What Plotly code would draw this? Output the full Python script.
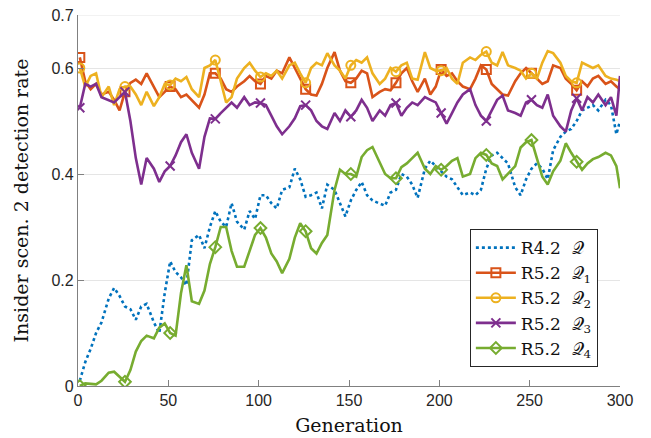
import plotly.graph_objects as go

generation = [1, 4, 7, 10, 13, 17, 20, 23,
              26, 29, 32, 35, 38, 42, 45, 48,
              51, 54, 57, 60, 63, 67, 70, 73,
              76, 79, 82, 85, 88, 92, 95, 98,
              101, 104, 107, 110, 113, 117, 120, 123,
              126, 129, 132, 135, 138, 142, 145, 148,
              151, 154, 157, 160, 163, 167, 170, 173,
              176, 179, 182, 185, 188, 192, 195, 198,
              201, 204, 207, 210, 213, 217, 220, 223,
              226, 229, 232, 235, 238, 242, 245, 248,
              251, 254, 257, 260, 263, 267, 270, 273,
              276, 279, 282, 285, 288, 292, 295, 298,
              300]

r42_q = [0.01, 0.045, 0.07, 0.1, 0.12, 0.165, 0.185, 0.17,
         0.15, 0.145, 0.125, 0.15, 0.155, 0.12, 0.1, 0.175,
         0.235, 0.215, 0.205, 0.19, 0.275, 0.285, 0.26, 0.3,
         0.33, 0.31, 0.3, 0.345, 0.31, 0.295, 0.33, 0.315,
         0.36, 0.36, 0.345, 0.335, 0.37, 0.375, 0.41, 0.39,
         0.357, 0.36, 0.365, 0.335, 0.38, 0.37, 0.345, 0.32,
         0.35, 0.37, 0.385, 0.36, 0.35, 0.345, 0.34, 0.365,
         0.37, 0.4, 0.395, 0.38, 0.355, 0.41, 0.425, 0.415,
         0.405, 0.395, 0.39, 0.375, 0.36, 0.365, 0.36, 0.37,
         0.41, 0.435, 0.44, 0.43, 0.42, 0.375, 0.36, 0.39,
         0.41, 0.42, 0.41, 0.39, 0.445, 0.47, 0.48, 0.485,
         0.5, 0.52, 0.525, 0.53, 0.52, 0.54, 0.53, 0.475,
         0.5]

r52_q1 = [0.62, 0.575, 0.56, 0.57, 0.55, 0.555, 0.54, 0.52,
          0.555, 0.572, 0.578, 0.57, 0.59, 0.565, 0.545, 0.555,
          0.565, 0.56, 0.545, 0.55, 0.54, 0.525, 0.55, 0.59,
          0.59, 0.58, 0.56, 0.555, 0.565, 0.575, 0.585, 0.575,
          0.57, 0.585, 0.58, 0.595, 0.59, 0.62, 0.6, 0.58,
          0.56, 0.55, 0.548, 0.57, 0.6, 0.63, 0.595, 0.575,
          0.572, 0.58, 0.595, 0.59, 0.545, 0.555, 0.56, 0.558,
          0.572, 0.59, 0.6, 0.575, 0.555, 0.58, 0.55, 0.565,
          0.597, 0.585, 0.59, 0.575, 0.565, 0.56, 0.58, 0.605,
          0.597, 0.57, 0.56, 0.55, 0.548, 0.575, 0.59, 0.6,
          0.59, 0.58, 0.57, 0.575, 0.605, 0.6, 0.58, 0.57,
          0.558, 0.575, 0.565, 0.58, 0.585, 0.57, 0.575, 0.565,
          0.56]

r52_q2 = [0.6, 0.565, 0.585, 0.59, 0.545, 0.565, 0.53, 0.56,
          0.565, 0.565, 0.55, 0.53, 0.555, 0.528, 0.545, 0.57,
          0.568, 0.58, 0.575, 0.583, 0.56, 0.545, 0.6, 0.605,
          0.615, 0.575, 0.535, 0.545, 0.58, 0.6, 0.61, 0.595,
          0.583, 0.59, 0.585, 0.595, 0.58, 0.605, 0.61, 0.59,
          0.572, 0.6, 0.61, 0.605, 0.628, 0.605, 0.595, 0.58,
          0.605, 0.615, 0.61, 0.62, 0.59, 0.57, 0.58, 0.6,
          0.593, 0.605, 0.61, 0.58, 0.578, 0.63, 0.6, 0.595,
          0.595, 0.6, 0.58, 0.57, 0.61, 0.62, 0.615, 0.625,
          0.631, 0.61, 0.605, 0.63, 0.605, 0.6, 0.595, 0.58,
          0.59, 0.58, 0.61, 0.632, 0.628, 0.61, 0.585, 0.575,
          0.572, 0.61, 0.605, 0.6, 0.605, 0.585, 0.58, 0.578,
          0.575]

r52_q3 = [0.525, 0.57, 0.565, 0.57, 0.545, 0.54, 0.535, 0.545,
          0.555, 0.5, 0.43, 0.38, 0.43, 0.41, 0.385, 0.405,
          0.415, 0.435, 0.46, 0.475, 0.44, 0.41, 0.47, 0.505,
          0.504, 0.515, 0.525, 0.535, 0.525, 0.545, 0.53, 0.535,
          0.534, 0.53, 0.51, 0.49, 0.475, 0.49, 0.505, 0.528,
          0.53, 0.52, 0.5, 0.49, 0.485, 0.515, 0.5, 0.52,
          0.508, 0.52, 0.54, 0.525, 0.5, 0.52, 0.51, 0.53,
          0.534, 0.51, 0.525, 0.535, 0.53, 0.545, 0.54, 0.535,
          0.515, 0.495, 0.515, 0.535, 0.55, 0.56, 0.53, 0.51,
          0.5, 0.52, 0.54, 0.548, 0.52, 0.515, 0.51, 0.535,
          0.54, 0.53, 0.525, 0.55, 0.51, 0.49, 0.48, 0.52,
          0.543, 0.52, 0.545, 0.535, 0.55, 0.53, 0.545, 0.51,
          0.585]

r52_q4 = [0.0, 0.005, 0.004, 0.003, 0.01, 0.025, 0.027, 0.018,
          0.008, 0.03, 0.065, 0.085, 0.095, 0.09, 0.11, 0.118,
          0.1, 0.095, 0.175, 0.228, 0.16, 0.155, 0.18, 0.23,
          0.262, 0.3, 0.3, 0.255, 0.225, 0.225, 0.253, 0.285,
          0.298, 0.28, 0.25, 0.235, 0.213, 0.24, 0.28, 0.307,
          0.292, 0.26, 0.25, 0.27, 0.285, 0.37, 0.408, 0.4,
          0.4, 0.395, 0.432, 0.445, 0.451, 0.42, 0.4, 0.392,
          0.392, 0.413, 0.42, 0.43, 0.44, 0.41, 0.4, 0.415,
          0.408, 0.415, 0.425, 0.43, 0.395, 0.4, 0.43, 0.44,
          0.436, 0.42, 0.415, 0.39, 0.4, 0.415, 0.45, 0.46,
          0.464, 0.43, 0.395, 0.38, 0.405, 0.425, 0.458, 0.44,
          0.423, 0.408, 0.42, 0.428, 0.432, 0.44, 0.435, 0.415,
          0.373]

legend_names = ["R4.2 &nbsp;𝒬", "R5.2 &nbsp;𝒬<sub>1</sub>", "R5.2 &nbsp;𝒬<sub>2</sub>",
                "R5.2 &nbsp;𝒬<sub>3</sub>", "R5.2 &nbsp;𝒬<sub>4</sub>"]
colors = ["#0072BD", "#D95319", "#EDB120", "#7E2F8E", "#77AC30"]
symbols = [None, "square-open", "circle-open", "x-thin-open", "diamond-open"]
series = [r42_q, r52_q1, r52_q2, r52_q3, r52_q4]

x_ticks = [0, 50, 100, 150, 200, 250, 300]
y_ticks = [0, 0.2, 0.4, 0.6, 0.7]
y_tick_text = ["0", "0.2", "0.4", "0.6", "0.7"]

serif = "DejaVu Serif, Liberation Serif, serif"

fig = go.Figure()
marker_every = 8
for i, (vals, name, col, sym) in enumerate(zip(series, legend_names, colors, symbols)):
    dash = "dot" if i == 0 else "solid"
    fig.add_trace(go.Scatter(x=generation, y=vals, mode="lines",
                             line=dict(color=col, width=2.6, dash=dash),
                             showlegend=False, legendgroup=str(i), hoverinfo="skip"))
    if sym is not None:
        mx = generation[:-1:marker_every]
        my = vals[:-1:marker_every]
        fig.add_trace(go.Scatter(x=mx, y=my, mode="markers",
                                 marker=dict(symbol=sym, size=9, color=col,
                                             line=dict(color=col, width=2)),
                                 showlegend=False, legendgroup=str(i)))
    fig.add_trace(go.Scatter(x=[None], y=[None],
                             mode="lines+markers" if sym else "lines",
                             name=name, legendgroup=str(i),
                             line=dict(color=col, width=2.6, dash=dash),
                             marker=dict(symbol=sym or "circle", size=9, color=col,
                                         line=dict(color=col, width=2))))

fig.update_layout(
    width=651, height=438,
    margin=dict(l=70, r=39, t=7, b=60),
    paper_bgcolor="white", plot_bgcolor="white",
    font=dict(family="Liberation Sans, Arial", size=16, color="#262626"),
    showlegend=True,
    legend=dict(x=0.723, y=0.423, xanchor="left", yanchor="top",
                bgcolor="white", bordercolor="#262626", borderwidth=1,
                font=dict(family=serif, size=17, color="#111111"),
                tracegroupgap=0, itemwidth=40),
    shapes=[dict(type="line", xref="paper", yref="y", x0=0, x1=1, y0=0.7, y1=0.7,
                 line=dict(color="#e5e5e5", width=1), layer="below")],
)
fig.update_xaxes(range=[0, 300], tickvals=x_ticks, showgrid=False, zeroline=False,
                 automargin=False, ticklabeloverflow="allow",
                 showline=True, linecolor="#808080", linewidth=1.2,
                 ticks="inside", ticklen=6, tickcolor="#808080",
                 title=dict(text="Generation", standoff=10,
                            font=dict(family=serif, size=19, color="#111111")))
fig.update_yaxes(range=[0, 0.7], tickvals=y_ticks, ticktext=y_tick_text,
                 automargin=False, ticklabeloverflow="allow",
                 showgrid=True, gridcolor="#e5e5e5", gridwidth=1, zeroline=False,
                 showline=True, linecolor="#808080", linewidth=1.2,
                 ticks="inside", ticklen=6, tickcolor="#808080",
                 title=dict(text="Insider scen. 2 detection rate", standoff=17,
                            font=dict(family=serif, size=19, color="#111111")))

fig.write_html("out.html")
